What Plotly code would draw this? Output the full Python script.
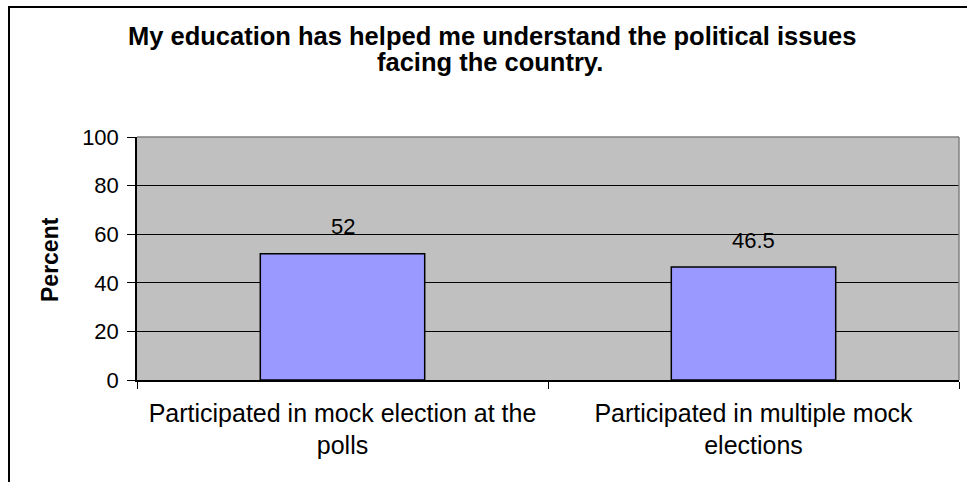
import plotly.graph_objects as go

categories = ["Participated in mock election at the<br>polls",
              "Participated in multiple mock<br>elections"]
values = [52, 46.5]
value_labels = ["52", "46.5"]
y_ticks = [0, 20, 40, 60, 80, 100]
title_lines = ["My education has helped me understand the political issues",
               "facing the country."]
y_title = "Percent"

W, H = 967, 482
L, R, T, B = 137, 8, 137, 102
pw, ph = W - L - R, H - T - B

def px_x(x):
    return (x - L) / pw

def px_y(y):
    return (H - B - y) / ph

FONT = "Liberation Sans, Arial, sans-serif"

fig = go.Figure()
fig.add_trace(go.Bar(
    x=categories, y=values,
    marker=dict(color="#9999FF", line=dict(color="black", width=1.5)),
    width=0.4, showlegend=False, hoverinfo="skip",
))

annotations = []
for c, v, t in zip(categories, values, value_labels):
    annotations.append(dict(x=c, y=v, xref="x", yref="y", text=t, showarrow=False,
                            yanchor="middle", yshift=27,
                            font=dict(family=FONT, size=22, color="black")))
annotations.append(dict(x=px_x(492), y=px_y(36), xref="paper", yref="paper",
                        text="<b>%s</b>" % title_lines[0], showarrow=False,
                        xanchor="center", yanchor="middle",
                        font=dict(family=FONT, size=25.5, color="black")))
annotations.append(dict(x=px_x(490), y=px_y(62), xref="paper", yref="paper",
                        text="<b>%s</b>" % title_lines[1], showarrow=False,
                        xanchor="center", yanchor="middle",
                        font=dict(family=FONT, size=25.5, color="black")))
annotations.append(dict(x=px_x(50), y=px_y(260), xref="paper", yref="paper",
                        text="<b>%s</b>" % y_title, showarrow=False, textangle=-90,
                        xanchor="center", yanchor="middle",
                        font=dict(family=FONT, size=23, color="black")))

shapes = [
    # outer chart frame
    dict(type="rect", xref="paper", yref="paper",
         x0=px_x(9), x1=px_x(980), y0=px_y(495), y1=px_y(7),
         line=dict(color="black", width=2), fillcolor="rgba(0,0,0,0)", layer="above"),
    # plot area top and right borders (gray)
    dict(type="line", xref="paper", yref="paper", x0=0, x1=1, y0=1, y1=1,
         line=dict(color="#808080", width=1.5), layer="above"),
    dict(type="line", xref="paper", yref="paper", x0=1, x1=1, y0=0, y1=1,
         line=dict(color="#808080", width=1.5), layer="above"),
]

fig.update_layout(
    width=W, height=H,
    margin=dict(l=L, r=R, t=T, b=B, pad=0),
    paper_bgcolor="white", plot_bgcolor="#C0C0C0",
    font=dict(family=FONT, color="black"),
    annotations=annotations, shapes=shapes,
    bargap=0.6,
)
fig.update_xaxes(
    showline=True, linecolor="black", linewidth=1.5,
    ticks="outside", tickson="boundaries", ticklen=7, tickcolor="black", tickwidth=1,
    showgrid=False, tickfont=dict(family=FONT, size=25, color="black"),
    ticklabelstandoff=10, automargin=False,
)
fig.update_yaxes(
    range=[0, 100], tickvals=y_ticks, ticktext=[str(v) for v in y_ticks],
    showline=True, linecolor="black", linewidth=1.5,
    ticks="outside", ticklen=8, tickcolor="black", tickwidth=1,
    showgrid=True, gridcolor="black", gridwidth=1,
    zeroline=False, tickfont=dict(family=FONT, size=22, color="black"),
    ticklabelstandoff=4, automargin=False,
)

fig.write_html("out.html")
